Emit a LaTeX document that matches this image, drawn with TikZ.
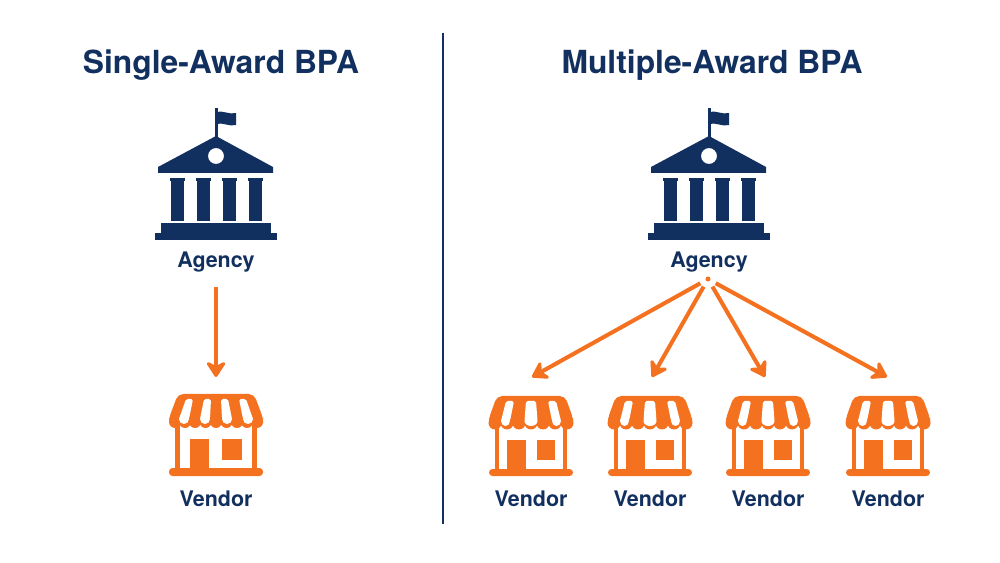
\documentclass[tikz,border=0pt]{standalone}
\usepackage{fontspec}
\usepackage{xcolor}
\usepackage{tikz}
\usetikzlibrary{arrows.meta,positioning}
\setmainfont{TeX Gyre Heros}
\definecolor{bpanavy}{HTML}{12305F}
\definecolor{bpaorange}{HTML}{F4711F}
\tikzset{
  heading/.style={anchor=base, font=\bfseries\fontsize{18.1}{18.1}\selectfont, text=bpanavy},
  caption/.style={anchor=base, font=\bfseries\fontsize{12.2}{12.2}\selectfont, text=bpanavy},
  flow/.style={draw=bpaorange, line width=2.3pt, -{Stealth[length=10.5pt,width=13.5pt,inset=3.5pt,round]}},
  agency/.pic={
    % flag and pole
    \fill[bpanavy] (-1.5,-67) rectangle (1.5,-30);
    \fill[bpanavy] (0,-63) .. controls (7,-65) and (13,-60) .. (20,-62) -- (20,-50) .. controls (13,-48) and (7,-53) .. (0,-51) -- cycle;
    % roof with its round window
    \fill[bpanavy, even odd rule] (0,-39) -- (57,-8) -- (57,-2) -- (-58,-2) -- (-58,-8) -- cycle
      (0,-19) circle (8);
    % columns
    \foreach \colx in {-39,-13,13,39} {
      \fill[bpanavy] (\colx-7.5,3) rectangle (\colx+7.5,6);
      \fill[bpanavy] (\colx-6.5,3) rectangle (\colx+6.5,46);
    }
    % steps
    \fill[bpanavy] (-55,48) rectangle (55,58);
    \fill[bpanavy] (-61,58) rectangle (61,65);
  },
  vendorwide/.pic={
    % awning with four stripes
    \fill[bpaorange, rounded corners=3pt] (-38,0) -- (38,0) -- (47,24) -- (47,29) -- (-47,29) -- (-47,24) -- cycle;
    \foreach \lobex in {-41,-31,-21,-10.5,0,10.5,21,31,41}
      \fill[bpaorange] (\lobex,28) ellipse (6 and 6);
    \foreach \topa/\topb/\bota/\botb in {-30/-23/-37/-27,-12/-5/-16/-6,5/12/6/16,23/30/27/37} {
      \fill[white, rounded corners=1pt] (\topa,5) -- (\topb,5) -- (\botb,25) -- (\bota,25) -- cycle;
      \fill[white] ({(\bota+\botb)/2},25) ellipse ({(\botb-\bota)/2} and 5);
    }
    % walls
    \fill[bpaorange] (-41,30) rectangle (-36,78);
    \fill[bpaorange] (36,30) rectangle (41,78);
    % door and window
    \fill[bpaorange] (-26,45) rectangle (-7,76);
    \fill[bpaorange] (6,45) rectangle (26,66);
    % floor
    \fill[bpaorange, rounded corners=2pt] (-47,74) rectangle (47,82);
  },
  vendornarrow/.pic={
    % awning with three stripes
    \fill[bpaorange, rounded corners=3pt] (-34,0) -- (34,0) -- (42,22) -- (42,27) -- (-42,27) -- (-42,22) -- cycle;
    \foreach \lobex in {-36,-24,-12,0,12,24,36}
      \fill[bpaorange] (\lobex,27) ellipse (6.5 and 6.5);
    \foreach \topa/\topb/\bota/\botb in {-25/-17/-30/-21,-5/5/-6.5/6.5,17/25/21/30} {
      \fill[white, rounded corners=1pt] (\topa,5) -- (\topb,5) -- (\botb,25) -- (\bota,25) -- cycle;
      \fill[white] ({(\bota+\botb)/2},25) ellipse ({(\botb-\bota)/2} and 5);
    }
    % walls
    \fill[bpaorange] (-36,30) rectangle (-32,76);
    \fill[bpaorange] (32,30) rectangle (36,76);
    % door and window
    \fill[bpaorange] (-24,44) rectangle (-5,74);
    \fill[bpaorange] (6,44) rectangle (24,64);
    % floor
    \fill[bpaorange, rounded corners=2pt] (-42,73) rectangle (42,80);
  }
}

\begin{document}
\begin{tikzpicture}[x=0.02cm,y=-0.02cm]
  \useasboundingbox (0,0) rectangle (1000,563);
  \fill[white] (0,0) rectangle (1000,563);

  \node[heading] (titleS) at (221,74) {Single-Award BPA};
  \node[heading] (titleM) at (712,74) {Multiple-Award BPA};

  \coordinate (ruleTop) at (443,33);
  \coordinate (ruleBot) at (443,524);
  \draw[bpanavy, line width=1.3pt] (ruleTop) -- (ruleBot);

  % Single-award side
  \pic at (216,175) {agency};
  \node[caption] (agencyS) at (216,268) {Agency};
  \pic at (216,394) {vendorwide};
  \node[caption] (vendorS) at (216,506) {Vendor};
  \coordinate (fromS) at (216,287);
  \coordinate (toS) at (216,377);
  \draw[flow] (fromS) -- (toS);

  % Multiple-award side
  \pic at (709,175) {agency};
  \node[caption] (agencyM) at (709,268) {Agency};
  \coordinate (hub) at (708,279);
  \fill[bpaorange] (hub) circle (2.5);
  \foreach \vname/\vx/\tipx in {A/531/532,B/650/652,C/768/765,D/888/887} {
    \pic at (\vx,396) {vendornarrow};
    \node[caption] (vendor\vname) at (\vx,506) {Vendor};
    \coordinate (tip\vname) at (\tipx,377);
    \draw[flow, shorten <=5pt] (hub) -- (tip\vname);
  }
\end{tikzpicture}
\end{document}
